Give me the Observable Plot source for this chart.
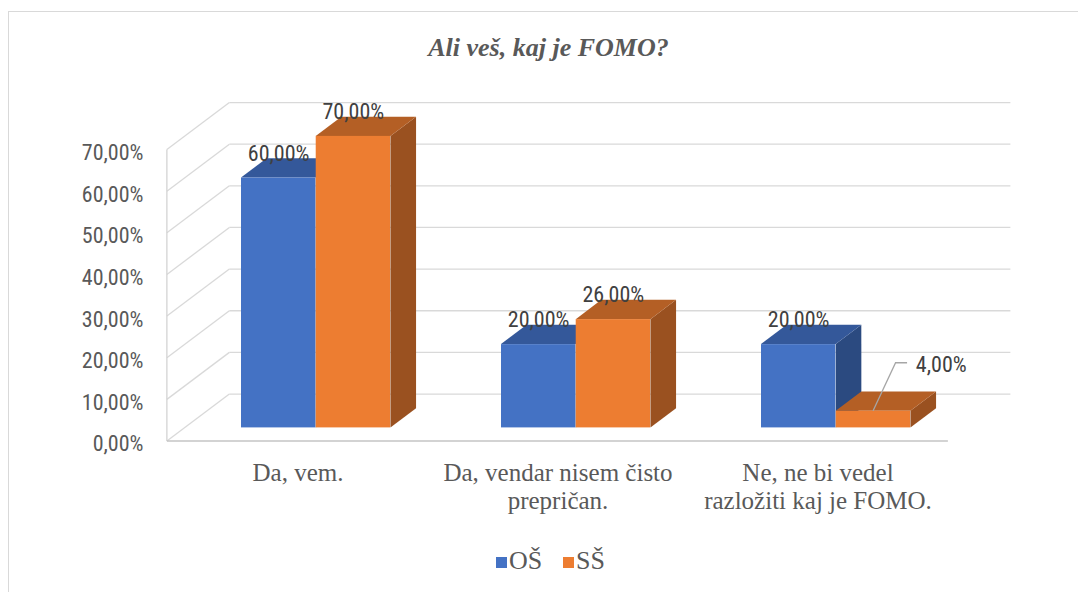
<!DOCTYPE html>
<html>
<head>
<meta charset="utf-8">
<script src="https://cdn.jsdelivr.net/npm/d3@7"></script>
<script src="https://cdn.jsdelivr.net/npm/@observablehq/plot@0.6"></script>
<style>
  html, body { margin: 0; padding: 0; background: #fff; overflow: hidden; }
  #wrap { position: relative; width: 1078px; height: 592px; overflow: hidden; }
  #border { position: absolute; left: 8px; top: 11px; width: 1200px; height: 800px;
            border: 1.5px solid #d9d9d9; box-sizing: border-box; }
  #chart { position: absolute; left: 0; top: 0; }
  #title { position: absolute; top: 34.9px; left: 0; width: 1097px; text-align: center;
           font: italic bold 26px/26px "Liberation Serif", "Times New Roman", serif; color: #595959; white-space: nowrap; }
  .sw { position: absolute; width: 11.5px; height: 11.5px; top: 556.7px; }
  .lt { position: absolute; top: 548.2px; font: 26px/26px "Liberation Serif", "Times New Roman", serif;
        color: #595959; white-space: nowrap; }
</style>
</head>
<body>
<div id="wrap">
  <div id="border"></div>
  <div id="chart"></div>
  <div id="title"></div>
  <div id="legend"></div>
</div>
<script>
// ---- data ----
const chartTitle = "Ali veš, kaj je FOMO?";
const categories = [
  "Da, vem.",
  "Da, vendar nisem čisto prepričan.",
  "Ne, ne bi vedel razložiti kaj je FOMO."
];
const tickLabels = [
  "Da, vem.",
  "Da, vendar nisem čisto\nprepričan.",
  "Ne, ne bi vedel\nrazložiti kaj je FOMO."
];
const seriesNames = ["OŠ", "SŠ"];
const osValues = [60, 20, 20];
const ssValues = [70, 26, 4];
const yTicks = [0, 10, 20, 30, 40, 50, 60, 70];

// ---- styles ----
const palette = [
  {front: "#4472C4", top: "#34589A", side: "#2B4A80"},
  {front: "#ED7D31", top: "#B45F25", side: "#9A5120"}
];
const sansFont = "'Liberation Sans Narrow', 'Roboto Condensed', Roboto, sans-serif";
const serifFont = "'Liberation Serif', 'Times New Roman', serif";
const W = 1078, H = 592;
const M = {left: 185, right: 112, top: 135.9, bottom: 164.6};
const DEPTH = [62.5, -47];   // pixel vector for the full floor depth
const FRONT = -0.29, BACK = 0.71, BAR = 0.41; // depths relative to the bar front plane

const fmtPct = v => v.toFixed(2).replace(".", ",") + "%";

const seriesValues = [osValues, ssValues];
const rows = categories.flatMap((c, i) =>
  seriesNames.map((s, k) => ({category: c, series: s, s: k, value: seriesValues[k][i]})));

const xOpts = {type: "band", domain: categories, paddingInner: 0.426, paddingOuter: 0.213};
const xProbe = Plot.scale({x: {...xOpts, range: [M.left, W - M.right]}});
const half = xProbe.bandwidth / 2;

const isInside = r => r.value >= 10;

function walls(index, scales) {
  const g = d3.create("svg:g").attr("fill", "none");
  const [l, r] = scales.x.range();
  const pt = (x, v, d) => [x + d * DEPTH[0], scales.y(v) + d * DEPTH[1]];
  const line = (a, b, stroke, w) => g.append("line")
    .attr("x1", a[0]).attr("y1", a[1]).attr("x2", b[0]).attr("y2", b[1])
    .attr("stroke", stroke).attr("stroke-width", w);
  for (const v of yTicks) {
    line(pt(l, v, BACK), pt(r, v, BACK), "#d9d9d9", 1.3);
    line(pt(l, v, FRONT), pt(l, v, BACK), "#d9d9d9", 1.3);
  }
  line(pt(l, 0, FRONT), pt(l, d3.max(yTicks), FRONT), "#d4d4d4", 1.3);
  line(pt(l, 0, FRONT), pt(r, 0, FRONT), "#c4c4c4", 1.5);
  return g.node();
}

function faces(k) {
  return (index, scales) => {
    const g = d3.create("svg:g");
    const ddx = BAR * DEPTH[0], ddy = BAR * DEPTH[1];
    for (const r of rows.filter(r => r.s === k)) {
      const xa = scales.x(r.category) + k * half, xb = xa + half;
      const y0 = scales.y(0), y1 = scales.y(r.value);
      g.append("polygon")
        .attr("points", [[xb, y1], [xb, y0], [xb + ddx, y0 + ddy], [xb + ddx, y1 + ddy]].join(" "))
        .attr("fill", palette[k].side);
      g.append("polygon")
        .attr("points", [[xa, y1], [xb, y1], [xb + ddx, y1 + ddy], [xa + ddx, y1 + ddy]].join(" "))
        .attr("fill", palette[k].top);
    }
    return g.node();
  };
}

function leaders(index, scales) {
  const g = d3.create("svg:g").attr("fill", "none").attr("stroke", "#a6a6a6").attr("stroke-width", 1.3);
  for (const r of rows.filter(r => !isInside(r))) {
    const cx = scales.x(r.category) + r.s * half + half / 2;
    const cy = scales.y(r.value);
    g.append("polyline").attr("points", [[cx, cy], [cx + 22.5, cy - 48], [cx + 34, cy - 48]].join(" "));
  }
  return g.node();
}

const marks = [walls];
seriesNames.forEach((s, k) => {
  marks.push(faces(k));
  marks.push(Plot.barY(rows.filter(r => r.s === k), {
    x: "category", y: "value", fill: palette[k].front,
    insetLeft: k === 1 ? half : 0, insetRight: k === 0 ? half : 0
  }));
});
marks.push(
  Plot.axisY(yTicks, {tickFormat: fmtPct, tickSize: 0, tickPadding: 42, dy: 16.5,
    fontSize: 22, fontFamily: sansFont, color: "#595959", label: null}),
  Plot.axisX({tickFormat: d => tickLabels[categories.indexOf(d)], tickSize: 0, tickPadding: 33.2, dx: -18,
    fontSize: 25, fontFamily: serifFont, lineHeight: 1.11, color: "#595959", label: null})
);
seriesNames.forEach((s, k) => {
  marks.push(Plot.text(rows.filter(r => r.s === k && isInside(r)), {
    x: "category", y: "value", text: d => fmtPct(d.value),
    dx: (k === 0 ? -1 : 1) * half / 2, dy: -17.5, lineAnchor: "bottom",
    fontSize: 22, fontFamily: sansFont, fill: "#404040"
  }));
  marks.push(Plot.text(rows.filter(r => r.s === k && !isInside(r)), {
    x: "category", y: "value", text: d => fmtPct(d.value),
    dx: (k === 0 ? -1 : 1) * half / 2 + 42.5, dy: -39.7, lineAnchor: "bottom", textAnchor: "start",
    fontSize: 22, fontFamily: sansFont, fill: "#404040"
  }));
});
marks.push(leaders);

const chart = Plot.plot({
  width: W, height: H,
  marginLeft: M.left, marginRight: M.right, marginTop: M.top, marginBottom: M.bottom,
  x: {...xOpts, label: null},
  y: {domain: [0, d3.max(yTicks)], label: null},
  style: {background: "transparent", overflow: "visible"},
  marks
});
document.getElementById("chart").appendChild(chart);

document.getElementById("title").textContent = chartTitle;
const legend = document.getElementById("legend");
const swLeft = [495.7, 562.7], txtLeft = [509, 576];
seriesNames.forEach((s, k) => {
  const sw = document.createElement("div");
  sw.className = "sw"; sw.style.left = swLeft[k] + "px"; sw.style.background = palette[k].front;
  const t = document.createElement("div");
  t.className = "lt"; t.style.left = txtLeft[k] + "px"; t.textContent = s;
  legend.appendChild(sw); legend.appendChild(t);
});
</script>
</body>
</html>
